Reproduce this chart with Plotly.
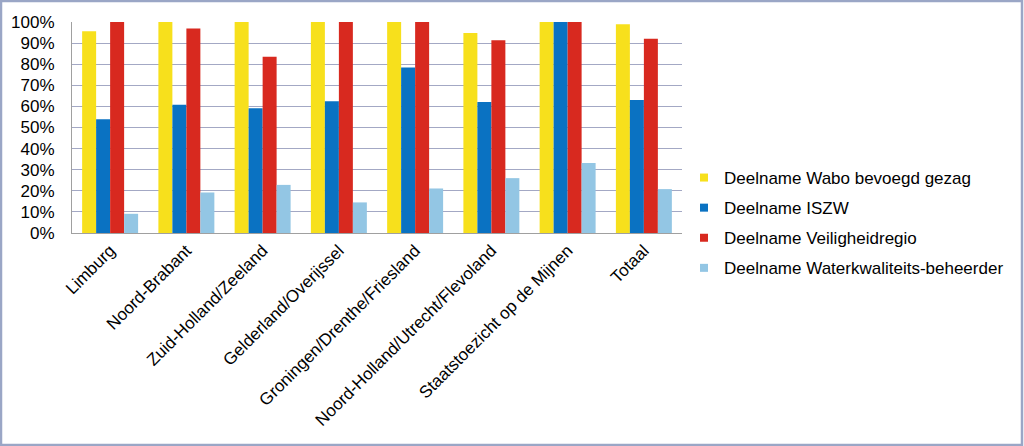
import plotly.graph_objects as go

categories = ["Limburg", "Noord-Brabant", "Zuid-Holland/Zeeland", "Gelderland/Overijssel",
              "Groningen/Drenthe/Friesland", "Noord-Holland/Utrecht/Flevoland",
              "Staatstoezicht op de Mijnen", "Totaal"]
series_names = ["Deelname Wabo bevoegd gezag", "Deelname ISZW",
                "Deelname Veiligheidregio", "Deelname Waterkwaliteits-beheerder"]
wabo = [95.6, 100, 100, 100, 100, 94.8, 100, 98.9]
iszw = [53.9, 60.8, 59.1, 62.5, 78.4, 62.1, 100, 63.0]
veiligheid = [100, 96.9, 83.5, 100, 100, 91.3, 100, 92.1]
water = [9.1, 19.2, 22.8, 14.5, 21.1, 26.0, 33.2, 20.8]
tick_vals = [0, 10, 20, 30, 40, 50, 60, 70, 80, 90, 100]
tick_text = [f"{v}%" for v in tick_vals]

colors = ["#F7E01C", "#0A72C2", "#D8291F", "#93C6E4"]

fig = go.Figure()
for i, (name, vals, col) in enumerate(zip(series_names, [wabo, iszw, veiligheid, water], colors)):
    fig.add_trace(go.Bar(x=categories, y=vals, name=name, showlegend=False,
                         marker=dict(color=col, line=dict(width=0))))
for i, (name, col) in enumerate(zip(series_names, colors)):
    fig.add_trace(go.Scatter(x=[None], y=[None], mode="markers", name=name,
                             legendgroup=f"g{i}",
                             marker=dict(symbol="square", size=8, color=col)))

L, R, T, B = 72, 342, 22, 213
W, H = 1024, 446
pw, ph = W - L - R, H - T - B

fig.update_layout(
    width=W, height=H,
    margin=dict(l=L, r=R, t=T, b=B, autoexpand=False),
    barmode="group", bargap=0.266, bargroupgap=0,
    paper_bgcolor="white", plot_bgcolor="white",
    font=dict(family="Liberation Sans, Arial", size=17, color="black"),
    showlegend=True,
    legend=dict(x=(684 - L) / pw, y=1 - (160 - T) / ph, xanchor="left", yanchor="top",
                font=dict(size=17), bgcolor="rgba(0,0,0,0)",
                traceorder="grouped", tracegroupgap=5, itemwidth=30),
    xaxis=dict(tickangle=-45, showline=True, linecolor="#A0A0A0", linewidth=1,
               ticks="", tickfont=dict(size=17), showgrid=False),
    yaxis=dict(range=[0, 100], tickvals=tick_vals, ticktext=tick_text,
               showgrid=True, gridcolor="#A3A8C4", gridwidth=1,
               showline=True, linecolor="#A0A0A0", linewidth=1,
               ticks="", tickfont=dict(size=17), zeroline=False,
               ticklabelstandoff=13),
    shapes=[dict(type="rect", xref="paper", yref="paper",
                 x0=-(L - 1) / pw, x1=1 + (R - 2) / pw,
                 y0=-(B - 1) / ph, y1=1 + (T - 1) / ph,
                 line=dict(color="#9AA6C6", width=2.5), fillcolor="rgba(0,0,0,0)")],
)

fig.write_html("out.html")
